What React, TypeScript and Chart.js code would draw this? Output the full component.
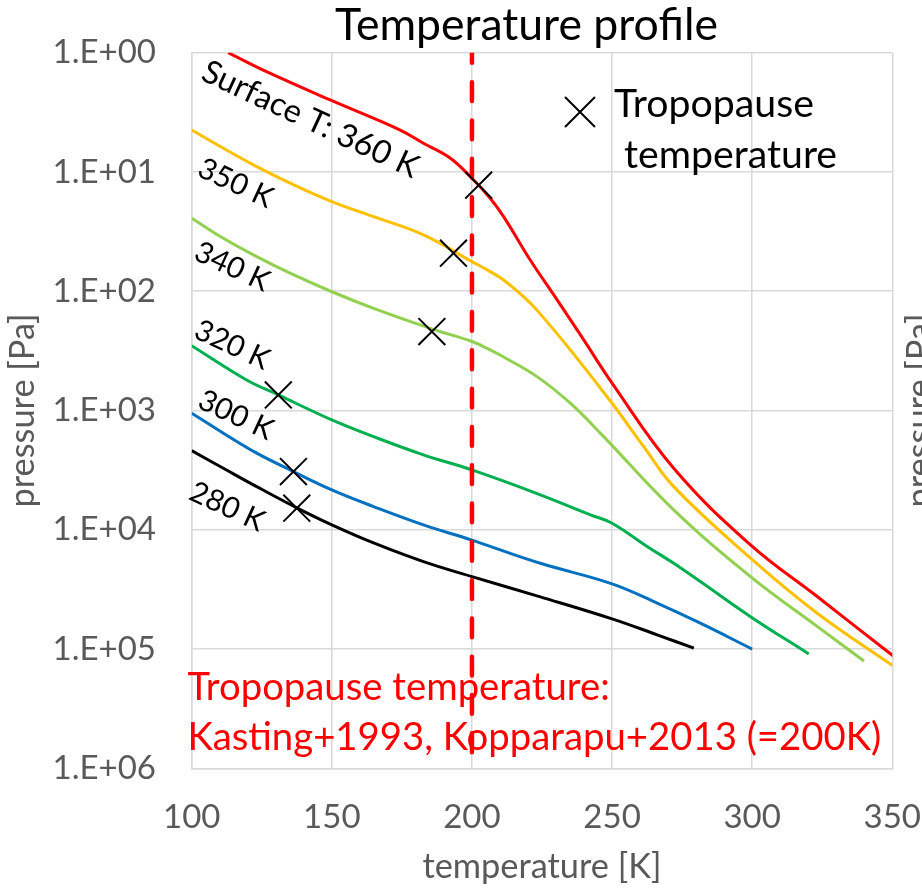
import React, { useEffect, useRef } from 'react';
import { Chart, registerables } from 'chart.js';

Chart.register(...registerables);

const FONT = 'Lato, "Open Sans", "DejaVu Sans", sans-serif';

// Temperature [K] / pressure [Pa] profiles per surface temperature
const t360 = [113, 126.9, 149.4, 174.4, 182.7, 192.3, 200, 206.5, 211.3, 220.8, 230.4, 239.9, 250, 272, 299.4, 323.2, 350.6, 360];
const p360 = [1.0, 1.45, 2.49, 4.45, 5.75, 7.67, 11.3, 16.6, 23.7, 54.7, 118, 256, 590, 3050, 13400, 36300, 115600, 170000];

const t350 = [100, 111.3, 123.2, 135.1, 150, 164.9, 182.7, 200, 206.5, 211.3, 218.4, 223.2, 235.1, 250, 261.3, 272, 299.4, 323.2, 350.6];
const p350 = [4.45, 6.33, 9.03, 12.4, 17.7, 23.7, 33.7, 56.5, 68.5, 80.4, 111, 144, 310, 869, 2010, 4350, 17300, 50100, 140000];

const t340 = [100, 111.3, 123.2, 135.1, 150, 164.9, 185.7, 200, 206.5, 211.3, 223.2, 235.1, 247, 272, 299.4, 323.2, 339.9];
const p340 = [24.4, 36.0, 51.3, 70.6, 101, 139, 207, 264, 310, 356, 520, 869, 1656, 6810, 24700, 64600, 126000];

const t320 = [100, 119.6, 130.9, 150, 164.9, 182.7, 200, 224.4, 242.3, 250, 262.5, 272, 281.5, 299.4, 320.2];
const p320 = [286, 555, 740, 1200, 1656, 2355, 3150, 5090, 7500, 8810, 13800, 19100, 27200, 53500, 110000];

const t300 = [100, 111.3, 123.2, 136.3, 150, 164.9, 182.7, 200, 206.5, 224.4, 250, 266.1, 281.5, 300];
const p300 = [1054, 1550, 2280, 3250, 4630, 6390, 9100, 12200, 13800, 19100, 28400, 41200, 60700, 100000];

const t280 = [100, 111.3, 123.2, 137.5, 150, 164.9, 182.7, 200, 224.4, 250, 266.1, 279.2];
const p280 = [2170, 3050, 4350, 6550, 9100, 12900, 18500, 24700, 36500, 55800, 76000, 98400];

// Tropopause points (X markers)
const tropoT = [202.4, 193.4, 185.7, 130.9, 136.3, 137.5];
const tropoP = [12.9, 48, 218, 740, 3250, 6590];

// Reference tropopause temperature line
const refT = [200, 200];
const refP = [1, 1000000];

// Axis ticks
const xTickValues = [100, 150, 200, 250, 300, 350];
const yTickValues = [1, 10, 100, 1000, 10000, 100000, 1000000];
const yTickLabels = ['1.E+00', '1.E+01', '1.E+02', '1.E+03', '1.E+04', '1.E+05', '1.E+06'];

// Curve labels (anchored in data space)
const lineLabels = ['Surface T: 360 K', '350 K', '340 K', '320 K', '300 K', '280 K'];
const labelT = [142.5, 115.8, 114.6, 114.6, 115.9, 112.8];
const labelP = [3.55, 12.2, 61.1, 277, 1072, 6280];

const COLORS = ['#FF0000', '#FFC000', '#92D050', '#00B050', '#0070C0', '#000000'];

export default function App() {
  const ref = useRef<HTMLCanvasElement>(null);

  useEffect(() => {
    const canvas = ref.current!;
    const toPts = (xs: number[], ys: number[]) => xs.map((x, i) => ({ x, y: ys[i] }));
    const curve = (label: string, xs: number[], ys: number[], color: string) => ({
      label,
      data: toPts(xs, ys),
      showLine: true,
      borderColor: color,
      backgroundColor: color,
      borderWidth: 3,
      pointRadius: 0,
      fill: false,
      tension: 0.4,
      order: 2,
    });

    const textPlugin = {
      id: 'texts',
      afterDraw(chart: any) {
        const ctx: CanvasRenderingContext2D = chart.ctx;
        const xs = chart.scales.x;
        const ys = chart.scales.y;
        const area = chart.chartArea;
        const fit = (text: string, width: number) => {
          ctx.font = `100px ${FONT}`;
          return (100 * width) / ctx.measureText(text).width;
        };
        ctx.save();
        // Title
        const titleSize = fit('Temperature profile', 383);
        ctx.font = `${titleSize}px ${FONT}`;
        ctx.fillStyle = '#000';
        ctx.textAlign = 'center';
        ctx.textBaseline = 'alphabetic';
        ctx.fillText('Temperature profile', (area.left + area.right) / 2 - 15.5, 40);

        // Axis titles
        const axSize = fit('pressure [Pa]', 194);
        ctx.fillStyle = '#595959';
        ctx.font = `${axSize}px ${FONT}`;
        ctx.save();
        ctx.translate(34, (area.top + area.bottom) / 2);
        ctx.rotate(-Math.PI / 2);
        ctx.fillText('pressure [Pa]', 0, 0);
        ctx.restore();
        ctx.save();
        ctx.translate(931, (area.top + area.bottom) / 2);
        ctx.rotate(-Math.PI / 2);
        ctx.fillText('pressure [Pa]', 0, 0);
        ctx.restore();
        ctx.fillText('temperature [K]', 542, 878);

        // Curve labels
        ctx.fillStyle = '#000';
        const sSurf = fit(lineLabels[0], 235);
        const sK = fit(lineLabels[1], 79);
        lineLabels.forEach((txt, i) => {
          const size = i === 0 ? sSurf : sK;
          const px = xs.getPixelForValue(labelT[i]);
          const py = ys.getPixelForValue(labelP[i]);
          ctx.save();
          ctx.translate(px, py);
          ctx.rotate((25 * Math.PI) / 180);
          ctx.font = `${size}px ${FONT}`;
          ctx.textAlign = 'center';
          ctx.fillText(txt, 0, size * 0.36);
          ctx.restore();
        });

        // Legend
        const lx = 580, ly = 112, lr = 15;
        ctx.strokeStyle = '#000';
        ctx.lineWidth = 2;
        ctx.beginPath();
        ctx.moveTo(lx - lr, ly - lr);
        ctx.lineTo(lx + lr, ly + lr);
        ctx.moveTo(lx - lr, ly + lr);
        ctx.lineTo(lx + lr, ly - lr);
        ctx.stroke();
        const legSize = fit('Tropopause', 200);
        ctx.font = `${legSize}px ${FONT}`;
        ctx.textAlign = 'left';
        ctx.fillText('Tropopause', 614, 117);
        ctx.fillText('temperature', 624, 168);

        // Red annotation
        const annSize = fit('Kasting+1993, Kopparapu+2013 (=200K)', 694);
        ctx.font = `${annSize}px ${FONT}`;
        ctx.fillStyle = '#FF0000';
        ctx.fillText('Tropopause temperature:', area.left - 4.3, area.bottom + 700 - 768.3);
        ctx.fillText('Kasting+1993, Kopparapu+2013 (=200K)', area.left - 4.3, area.bottom + 750 - 768.3);
        ctx.restore();
      },
    };

    const chart = new Chart(canvas, {
      type: 'scatter',
      data: {
        datasets: [
          curve('360 K', t360, p360, COLORS[0]),
          curve('350 K', t350, p350, COLORS[1]),
          curve('340 K', t340, p340, COLORS[2]),
          curve('320 K', t320, p320, COLORS[3]),
          curve('300 K', t300, p300, COLORS[4]),
          curve('280 K', t280, p280, COLORS[5]),
          {
            label: 'Tropopause temperature (200 K)',
            data: toPts(refT, refP),
            showLine: true,
            borderColor: '#FF0000',
            borderWidth: 4.5,
            borderDash: [18.8, 19.5],
            borderDashOffset: 8.75,
            borderCapStyle: 'round',
            pointRadius: 0,
            tension: 0,
            fill: false,
            order: 1,
          } as any,
          {
            label: 'Tropopause',
            data: toPts(tropoT, tropoP),
            showLine: false,
            pointStyle: 'crossRot',
            pointRadius: 19,
            pointBorderWidth: 2,
            pointBorderColor: '#000',
            borderColor: '#000',
            backgroundColor: '#000',
            order: 0,
          } as any,
        ],
      },
      options: {
        animation: false,
        responsive: false,
        devicePixelRatio: 1,
        layout: { padding: { top: 52.7, right: 29.7, left: 0, bottom: 0 } },
        plugins: { legend: { display: false }, tooltip: { enabled: false }, title: { display: false } },
        scales: {
          x: {
            type: 'linear',
            min: 100,
            max: 350,
            afterBuildTicks: (s: any) => {
              s.ticks = xTickValues.map((v) => ({ value: v }));
            },
            ticks: {
              color: '#595959',
              font: { family: FONT, size: 33, lineHeight: 2.95 },
              padding: 0,
              maxRotation: 0,
              autoSkip: false,
            },
            grid: { color: '#d9d9d9', lineWidth: 1.5, drawTicks: false },
            border: { color: '#d9d9d9', width: 1.5 },
            afterFit: (s: any) => {
              s.height = 889 - 768.3;
            },
          },
          y: {
            type: 'logarithmic',
            reverse: true,
            min: 1,
            max: 1000000,
            afterBuildTicks: (s: any) => {
              s.ticks = yTickValues.map((v) => ({ value: v }));
            },
            ticks: {
              color: '#595959',
              font: { family: FONT, size: 33, lineHeight: 1.0 },
              padding: 35.7,
              autoSkip: false,
              callback: (v: any) => yTickLabels[yTickValues.indexOf(Number(v))] ?? '',
            },
            grid: { color: '#d9d9d9', lineWidth: 1.5, drawTicks: false },
            border: { color: '#d9d9d9', width: 1.5 },
            afterFit: (s: any) => {
              s.width = 191.7;
            },
          },
        },
      } as any,
      plugins: [textPlugin],
    });
    return () => chart.destroy();
  }, []);

  return (
    <div style={{ position: 'absolute', left: 0, top: 0, width: 922, height: 889, background: '#fff' }}>
      <canvas ref={ref} width={922} height={889} style={{ display: 'block', width: 922, height: 889 }} />
    </div>
  );
}
